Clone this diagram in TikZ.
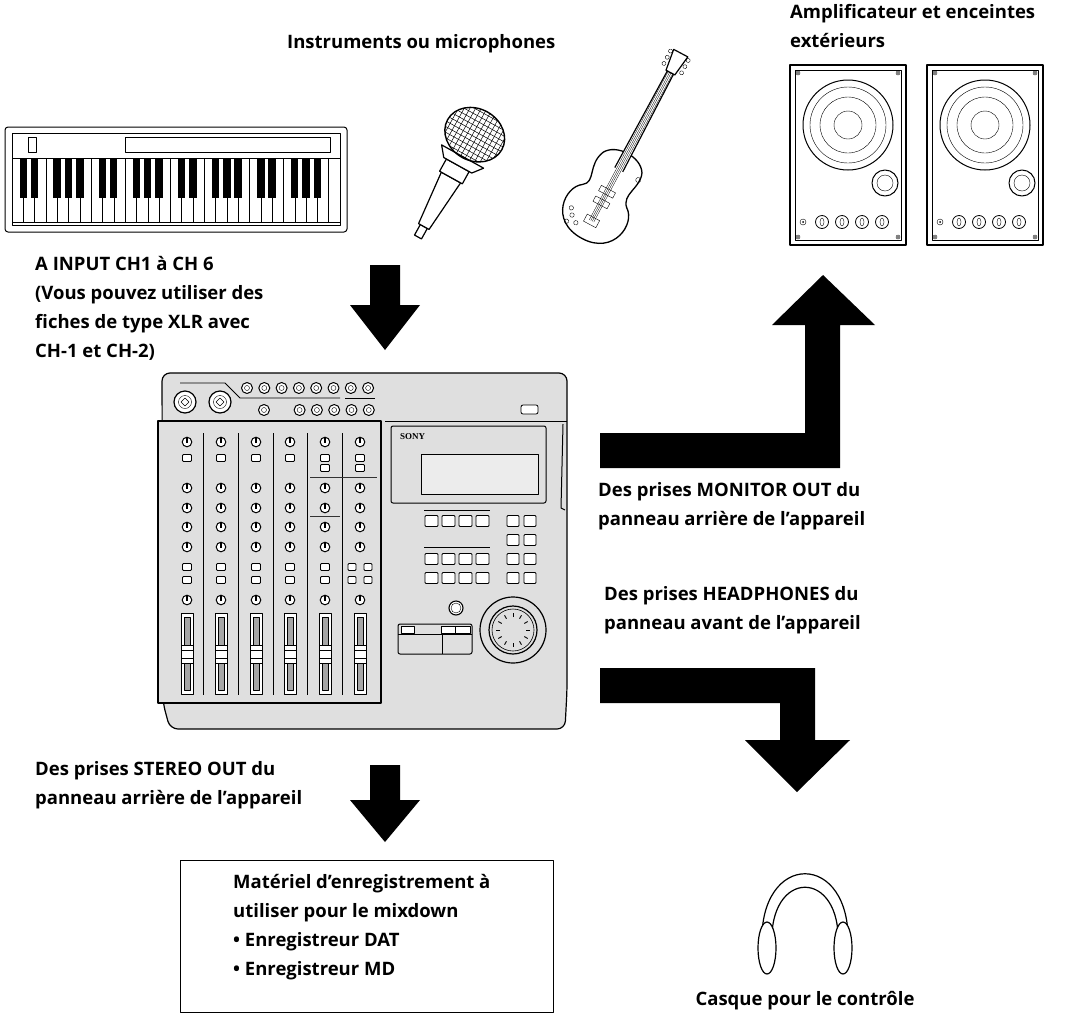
\documentclass[tikz,border=0pt]{standalone}
\usepackage{fontspec}
\setmainfont{Open Sans}
\newfontfamily\sonyfont{Liberation Serif}
\usetikzlibrary{calc}
\begin{document}
\begin{tikzpicture}[x=1pt,y=-1pt,line join=round,
 lbl/.style={font=\bfseries\fontsize{18.5}{29}\selectfont,align=left,anchor=north west,inner sep=0pt},
 big/.style={fill=black,draw=none},
 knob/.style={draw,fill=white,line width=0.8pt},
 body/.style={draw,line width=1.2pt,fill=gray!25}]
\useasboundingbox (0,0) rectangle (1071,1026);
% texts
\node[lbl] (tinst) at (287,34) {Instruments ou microphones};
\node[lbl] (tamp) at (790,4) {Amplificateur et enceintes\\extérieurs};
\node[lbl] (tin) at (35,256) {A INPUT CH1 à CH 6\\(Vous pouvez utiliser des\\fiches de type XLR avec\\CH-1 et CH-2)};
\node[lbl] (tmon) at (598,482) {Des prises MONITOR OUT du\\panneau arrière de l’appareil};
\node[lbl] (thp) at (604,586) {Des prises HEADPHONES du\\panneau avant de l’appareil};
\node[lbl] (tst) at (35,761) {Des prises STEREO OUT du\\panneau arrière de l’appareil};
\node[draw,line width=1pt,minimum width=373pt,minimum height=152pt] (box) at (366.5,936) {};
\node[lbl] (tbox) at (233,874) {Matériel d’enregistrement à\\utiliser pour le mixdown\\• Enregistreur DAT\\• Enregistreur MD};
\node[lbl,anchor=north] (tcas) at (805,991) {Casque pour le contrôle};
% arrows
\fill[big] (370,265) -- (400,265) -- (400,305) -- (420,305) -- (385,350) -- (350,305) -- (370,305) -- cycle;
\fill[big] (370,765) -- (400,765) -- (400,800) -- (420,800) -- (385,842) -- (350,800) -- (370,800) -- cycle;
\fill[big] (600,433) -- (805,433) -- (805,325) -- (772,325) -- (823,275) -- (875,325) -- (840,325) -- (840,468) -- (600,468) -- cycle;
\fill[big] (600,668) -- (815,668) -- (815,740) -- (850,740) -- (797,792) -- (745,740) -- (780,740) -- (780,703) -- (600,703) -- cycle;
% keyboard
\draw[line width=1pt,rounded corners=3pt] (5,127) rectangle (347,232);
\draw[line width=0.8pt] (12,133) rectangle (340,225);
\draw (28,137) rectangle (36,152);
\draw (125,137) rectangle (330,152);
\foreach \i in {0,...,28} {\draw (12+\i*11.31,158) rectangle (12+\i*11.31+11.31,222);}
\foreach \i in {0,...,28} {
 \pgfmathtruncatemacro{\m}{mod(\i,7)}
 \ifnum\m=2 \else\ifnum\m=6 \else\ifnum\i<28
 \fill (12+\i*11.31+7.5,158) rectangle (12+\i*11.31+15,198);
 \fi\fi\fi}
% microphone
\begin{scope}[shift={(418,237)},rotate=61]
\draw[line width=1.2pt,fill=white] (0,-4) rectangle (12,4);
\draw[line width=1.2pt,fill=white] (12,-6) -- (68,-11) -- (68,11) -- (12,6) -- cycle;
\draw[line width=1.2pt,fill=white] (68,-13) rectangle (82,13);
\draw[line width=1.2pt,fill=white] (82,-16) -- (92,-24) -- (92,24) -- (82,16) -- cycle;
\begin{scope}
\clip (117,0) ellipse (26 and 31);
\foreach \a in {-32,-27,...,32}{\draw[line width=0.5pt] (88,\a) -- (146,\a); \draw[line width=0.5pt] (117+\a,-33) -- (117+\a,33);}
\end{scope}
\draw[line width=1.4pt] (117,0) ellipse (26 and 31);
\end{scope}
% guitar
\begin{scope}[shift={(600,205)},rotate=62]
\draw[line width=1.3pt,fill=white] (-38,0) .. controls (-38,-38) and (0,-40) .. (10,-25) .. controls (18,-14) and (30,-30) .. (48,-22) .. controls (62,-14) and (62,14) .. (48,22) .. controls (34,28) and (20,14) .. (10,25) .. controls (0,40) and (-38,36) .. (-38,0) -- cycle;
\draw[line width=1.2pt,fill=white] (40,-4.5) -- (150,-3.5) -- (150,3.5) -- (40,4.5);
\draw[line width=1.2pt,fill=white] (150,-5) -- (172,-8) -- (172,8) -- (150,5) -- cycle;
\foreach \t in {155,162,169}{\draw (\t,-10) circle (2); \draw (\t,10) circle (2);}
\draw[fill=white] (-22,-7) rectangle (-14,7);
\draw[fill=white] (0,-8) rectangle (6,8);
\draw[fill=white] (12,-8) rectangle (18,8);
\foreach \p in {(-22,-20),(-27,-13),(-16,-24),(-30,-22)}{\draw \p circle (2.2);}
\draw (40,22) circle (2.5);
\foreach \s in {-2.5,-0.8,0.8,2.5}{\draw[line width=0.3pt] (-18,\s) -- (150,\s);}
\end{scope}
% speakers
\foreach \sx in {790,927}{
\begin{scope}[shift={(\sx,65)}]
\draw[line width=1.2pt,fill=white] (0,0) rectangle (116,180);
\draw (5,5) rectangle (111,175);
\foreach \cx/\cy in {8/8,108/8,8/172,108/172}{\draw (\cx,\cy) circle (2); \fill (\cx,\cy) circle (0.8);}
\draw[line width=1pt] (58,60) circle (45);
\draw (58,60) circle (38);
\draw (58,60) circle (28);
\draw (58,60) circle (14);
\draw[line width=1pt] (95,118) circle (13);
\draw (95,118) circle (8);
\draw (13,157) circle (3); \fill (13,157) circle (1);
\foreach \k in {32,52,72,92}{\draw[line width=0.8pt] (\k,157) circle (6.5); \draw (\k,157) ellipse (2 and 4);}
\end{scope}}
% headphones
\draw[line width=1.2pt] (762,945) .. controls (758,850) and (852,850) .. (848,945);
\draw[line width=1.2pt] (772,945) .. controls (768,868) and (842,868) .. (838,945);
\draw[line width=1.2pt,fill=white] (767,948) ellipse (9 and 26);
\draw[line width=1.2pt,fill=white] (843,948) ellipse (9 and 26);
% mixer body
\draw[body,rounded corners=8pt] (162,373) -- (567,373) -- (567,690) -- (565,729) -- (170,729) -- (163,703) -- cycle;
\draw[line width=0.8pt] (180,383) -- (225,383) -- (240,398) -- (340,398); \draw[line width=0.8pt] (345,398) -- (375,398);
\draw[line width=0.8pt] (385,421) -- (567,421);
\draw[line width=1.2pt,fill=gray!25] (158,421) rectangle (381,703);
% top row
\foreach \x in {185,220}{\draw[knob,line width=1.2pt] (\x,402) circle (11); \draw[fill=white] (\x,402) circle (6.5); \draw (\x-4,402) -- (\x,398) -- (\x+4,402) -- (\x,406) -- cycle;}
\foreach \i in {0,...,7}{\draw[knob,line width=1pt] (247+\i*17.3,388) circle (5.5); \draw (247+\i*17.3,388) circle (2.5);}
\foreach \x in {264,299.6,316.9,334.2,351.5,368.8}{\draw[knob,line width=1pt] (\x,410) circle (5.5); \draw (\x,410) circle (2.5);}
\draw[knob,rounded corners=2pt] (521,405) rectangle (538,414);
% channels
\foreach \x in {203,238,273,307,342}{\draw[line width=0.6pt] (\x,433) -- (\x,695);}
\foreach \x in {187,221,256,290,325,360}{
 \foreach \y in {442,488,508,527,547,600}{\draw[knob,line width=1pt] (\x,\y) circle (4.8); \fill (\x-0.6,\y-4) rectangle (\x+0.6,\y+1);}
 \foreach \y in {458,567,580}{\draw[knob,rounded corners=1pt] (\x-4.5,\y-3.5) rectangle (\x+4.5,\y+3.5);}
 \draw[line width=1pt,fill=white] (\x-6,613) rectangle (\x+6,694);
 \draw[fill=gray!70] (\x-3,617) rectangle (\x+3,690);
 \draw[knob,line width=1pt] (\x-6,645) rectangle (\x+6,663);
 \draw (\x-6,650) -- (\x+6,650); \draw (\x-6,658) -- (\x+6,658);
}
\foreach \x in {325,360}{\draw[knob,rounded corners=1pt] (\x-4.5,468-3.5) rectangle (\x+4.5,468+3.5);}
\foreach \y in {567,580}{\fill[gray!25] (353,\y-4) rectangle (367,\y+4);
 \draw[knob,rounded corners=1pt] (352-4,\y-3.5) rectangle (352+4,\y+3.5);
 \draw[knob,rounded corners=1pt] (368-4,\y-3.5) rectangle (368+4,\y+3.5);}
\draw[line width=0.8pt,gray!40!black] (310,477) -- (377,477); \draw[line width=0.8pt,gray!40!black] (310,516) -- (340,516);
% right section
\draw[line width=1pt,fill=gray!25,rounded corners=2pt] (391,426) rectangle (546,503);
\node[font=\sonyfont\bfseries\fontsize{9}{9}\selectfont,inner sep=0pt,anchor=west] (sony) at (400,437) {SONY};
\draw[line width=0.9pt,fill=gray!15] (421,454) rectangle (538,494);
\draw[line width=1pt] (563,424) -- (561,508) -- (565,510);
\foreach \y in {510,547}{\draw[line width=0.8pt] (424,\y) -- (490,\y);}
\foreach \y in {521,559,578}{\foreach \x in {425,442,459,476}{\draw[knob,rounded corners=1pt] (\x,\y-5.5) rectangle (\x+13,\y+5.5);}}
\foreach \y in {521,540,559,578}{\foreach \x in {507,524}{\draw[knob,rounded corners=1pt] (\x,\y-5.5) rectangle (\x+12,\y+5.5);}}
\draw[knob,line width=1.1pt] (456,608) circle (7); \draw (456,608) circle (5);
\draw[line width=1.2pt,fill=gray!25] (513,630) circle (33);
\draw[line width=1.2pt,fill=gray!25] (513,630) circle (24);
\draw[line width=0.6pt] (513,630) circle (21);
\foreach \a in {0,30,...,330}{\draw[line width=0.9pt] ($(513,630)+(\a:13)$) -- ($(513,630)+(\a:17)$);}
\draw[line width=1pt,fill=gray!25,rounded corners=2pt] (398,624) rectangle (472,654);
\draw (398,634) -- (472,634); \draw (442,634) -- (442,654);
\draw[knob] (401,626) rectangle (414,633);
\draw[knob] (441,626) rectangle (470,633); \draw (455,626) -- (455,633);
\end{tikzpicture}
\end{document}
